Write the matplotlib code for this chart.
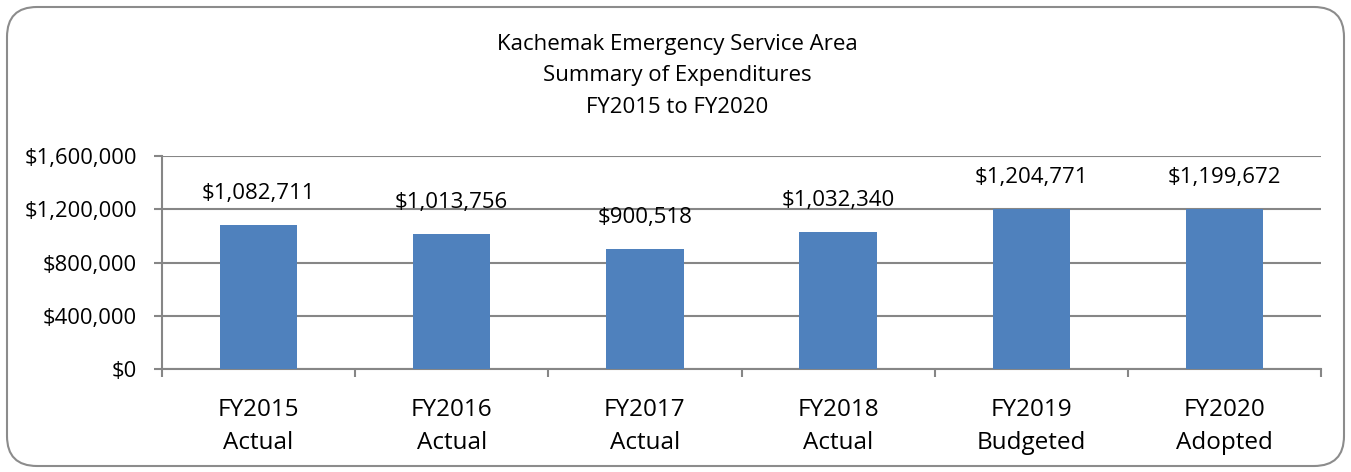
import matplotlib.pyplot as plt
from matplotlib.patches import FancyBboxPatch
from matplotlib.ticker import FuncFormatter

plt.rcParams['font.family'] = ['Open Sans', 'DejaVu Sans']

categories = ['FY2015\nActual', 'FY2016\nActual', 'FY2017\nActual',
              'FY2018\nActual', 'FY2019\nBudgeted', 'FY2020\nAdopted']
expenditures = [1082711, 1013756, 900518, 1032340, 1204771, 1199672]
y_ticks = [0, 400000, 800000, 1200000, 1600000]

grid_col = '#868686'
bar_col = '#4F81BD'

fig = plt.figure(figsize=(13.51, 4.72), dpi=100)

# background axes in pixel units for the rounded chart border
bg = fig.add_axes([0, 0, 1, 1])
bg.set_xlim(0, 1351)
bg.set_ylim(0, 472)
bg.axis('off')
bg.add_patch(FancyBboxPatch((7, 6), 1337, 459,
                            boxstyle='round,pad=0,rounding_size=30',
                            fill=False, edgecolor='#8c8c8c', linewidth=1.5))

ax = fig.add_axes([162 / 1351, 1 - 369 / 472, 1159 / 1351, 213 / 472])
x = list(range(len(categories)))
ax.bar(x, expenditures, width=0.4, color=bar_col, zorder=3)
for xi, v in zip(x, expenditures):
    ax.annotate(f'${v:,}', (xi, v), xytext=(0, 15), textcoords='offset points',
                ha='center', va='bottom', fontsize=16)

ax.set_xlim(-0.5, len(categories) - 0.5)
ax.set_ylim(0, 1600000)
ax.set_yticks(y_ticks)
ax.yaxis.set_major_formatter(FuncFormatter(lambda v, p: f'${int(v):,}'))
ax.set_xticks(x)
ax.set_xticklabels(categories, fontsize=17.5, linespacing=1.5)
ax.set_xticks([i - 0.5 for i in range(len(categories) + 1)], minor=True)
ax.tick_params(axis='x', which='major', length=0, pad=21)
ax.tick_params(axis='x', which='minor', length=6, color=grid_col, width=1.5)
ax.tick_params(axis='y', length=6, color=grid_col, width=1.5, labelsize=15.8, pad=12)
ax.grid(axis='y', color=grid_col, linewidth=1.5, zorder=0)
for s in ['top', 'right']:
    ax.spines[s].set_visible(False)
for s in ['left', 'bottom']:
    ax.spines[s].set_color(grid_col)
    ax.spines[s].set_linewidth(1.5)

fig.text(677 / 1351, 1 - 76 / 472,
         'Kachemak Emergency Service Area\nSummary of Expenditures\nFY2015 to FY2020',
         ha='center', va='center', fontsize=16, linespacing=1.65)

fig.savefig('out.png', dpi=100)
